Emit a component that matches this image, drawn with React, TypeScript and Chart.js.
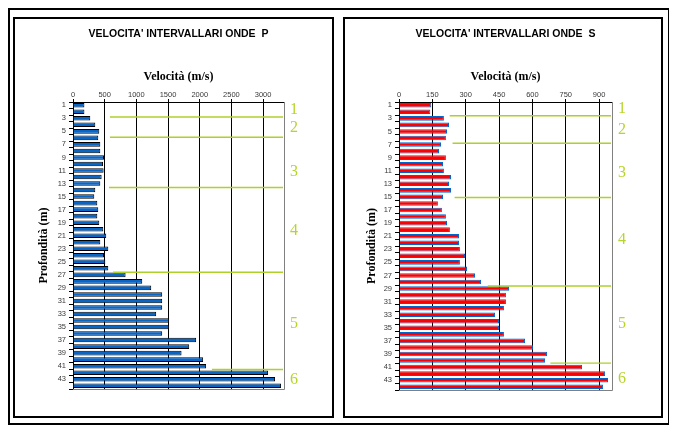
import React, { useEffect, useRef } from 'react';
import { Chart, registerables } from 'chart.js';

Chart.register(...registerables);

const depthLabels = ['1','2','3','4','5','6','7','8','9','10','11','12','13','14','15','16','17','18','19','20','21','22','23','24','25','26','27','28','29','30','31','32','33','34','35','36','37','38','39','40','41','42','43','44'];

const vpValues = [180,180,273,352,415,399,431,431,489,473,483,452,431,352,336,384,399,384,415,478,525,431,557,489,510,557,830,1093,1235,1408,1408,1408,1313,1518,1518,1408,1944,1834,1713,2054,2101,3079,3189,3284];
const vsValues = [145,141,202,225,216,211,189,180,211,198,202,234,225,234,198,175,193,211,216,229,270,270,274,297,274,306,342,369,495,481,481,472,432,450,450,472,567,603,666,657,823,927,940,918];

const pTickValues = [0,500,1000,1500,2000,2500,3000];
const sTickValues = [0,150,300,450,600,750,900];

const layerNames = ['1','2','3','4','5','6'];

const pBoundaryDepths = [2.8,5.9,13.6,26.6,41.5];
const pBoundaryStarts = [583,583,568,631,2192];
const pLayerLabelDepths = [1.77,4.48,11.27,20.25,34.5,43.1];

const sBoundaryDepths = [2.6,6.8,15.1,28.6,40.4];
const sBoundaryStarts = [228,241,250,399,681];
const sLayerLabelDepths = [1.57,4.78,11.35,21.6,34.4,42.8];

const GREEN = '#aed02a';
const GREEN_TEXT = '#b6d52c';

const layersPlugin = {
  id: 'layers',
  afterDatasetsDraw(chart: any, _args: any, opts: any) {
    const { ctx, chartArea, scales } = chart;
    const xs = scales.x;
    const ys = scales.y;
    ctx.save();
    ctx.strokeStyle = '#808080';
    ctx.lineWidth = 1;
    ctx.beginPath();
    ctx.moveTo(chartArea.right + 0.5, chartArea.top);
    ctx.lineTo(chartArea.right + 0.5, chartArea.bottom + 0.5);
    ctx.lineTo(chartArea.left, chartArea.bottom + 0.5);
    ctx.stroke();

    ctx.strokeStyle = GREEN;
    ctx.lineWidth = 1.4;
    opts.depths.forEach((d: number, i: number) => {
      const py = ys.getPixelForValue(d - 1);
      const px = xs.getPixelForValue(opts.starts[i]);
      ctx.beginPath();
      ctx.moveTo(px, py);
      ctx.lineTo(chartArea.right - 1, py);
      ctx.stroke();
    });

    ctx.fillStyle = GREEN_TEXT;
    ctx.font = '16px "Liberation Serif", serif';
    ctx.textAlign = 'center';
    ctx.textBaseline = 'middle';
    opts.labelDepths.forEach((d: number, i: number) => {
      ctx.fillText(layerNames[i], chartArea.right + 10, ys.getPixelForValue(d - 1));
    });
    ctx.restore();
  },
};

type Props = {
  title: string;
  values: number[];
  max: number;
  tickValues: number[];
  fill: string;
  border: string;
  depths: number[];
  starts: number[];
  labelDepths: number[];
  width: number;
  height: number;
  yAxisWidth: number;
  padRight: number;
  padBottom: number;
  yTitlePad: number;
};

function VelocityChart(p: Props) {
  const ref = useRef<HTMLCanvasElement | null>(null);
  useEffect(() => {
    if (!ref.current) return;
    const tickFont = { family: '"Liberation Sans", Arial, sans-serif', size: 7.5 };
    const axisTitleFont = { family: '"Liberation Serif", serif', size: 12, weight: 'bold' as const };
    const chart = new Chart(ref.current, {
      type: 'bar',
      data: {
        labels: depthLabels,
        datasets: [
          {
            data: p.values,
            backgroundColor: p.fill,
            borderColor: p.border,
            borderWidth: 1,
            barPercentage: 0.7,
            categoryPercentage: 1,
          },
        ],
      },
      plugins: [layersPlugin],
      options: {
        indexAxis: 'y',
        responsive: false,
        animation: false,
        devicePixelRatio: 1,
        layout: { padding: { left: 0, right: p.padRight, top: 0, bottom: p.padBottom } },
        plugins: {
          legend: { display: false },
          tooltip: { enabled: false },
          title: {
            display: true,
            text: p.title,
            fullSize: false,
            color: '#000',
            font: { family: '"Liberation Sans", Arial, sans-serif', size: 10.5, weight: 'bold' },
            padding: { top: 8.6, bottom: 19.8 },
          },
          layers: { depths: p.depths, starts: p.starts, labelDepths: p.labelDepths },
        } as any,
        scales: {
          x: {
            type: 'linear',
            position: 'top',
            min: 0,
            max: p.max,
            afterBuildTicks: (s: any) => {
              s.ticks = p.tickValues.map((v) => ({ value: v }));
            },
            afterFit: (s: any) => {
              s.height = 42;
            },
            ticks: { font: tickFont, color: '#3a3a3a', padding: 0, callback: (v: any) => String(v) },
            grid: { color: '#000', lineWidth: 1, tickLength: 3 },
            border: { color: '#000', width: 1 },
            title: {
              display: true,
              text: 'Velocità (m/s)',
              color: '#000',
              font: axisTitleFont,
              padding: { top: 9.8, bottom: 0 },
            },
          },
          y: {
            type: 'category',
            afterFit: (s: any) => {
              s.width = p.yAxisWidth;
            },
            ticks: {
              autoSkip: false,
              font: tickFont,
              color: '#3a3a3a',
              padding: 3,
              callback: function (this: any, v: any, i: number) {
                return i % 2 === 0 ? this.getLabelForValue(v) : '';
              },
            },
            grid: { drawOnChartArea: false, color: '#000', tickLength: 4, offset: true },
            border: { color: '#000', width: 1 },
            title: {
              display: true,
              text: 'Profondità (m)',
              color: '#000',
              font: axisTitleFont,
              padding: { top: p.yTitlePad, bottom: 0 },
            },
          },
        },
      } as any,
    });
    return () => chart.destroy();
  }, []);
  return <canvas ref={ref} width={p.width} height={p.height} style={{ display: 'block', width: p.width, height: p.height }} />;
}

export default function App() {
  const panel: React.CSSProperties = {
    position: 'absolute',
    top: 7,
    height: 401,
    border: '2px solid #000',
    boxSizing: 'border-box',
    background: '#fff',
  };
  return (
    <div style={{ position: 'relative', width: 662, height: 417, border: '2px solid #000', boxSizing: 'border-box', background: '#fff' }}>
      <div style={{ ...panel, left: 3, width: 321 }}>
        <VelocityChart
          title="VELOCITA' INTERVALLARI ONDE  P"
          values={vpValues}
          max={3330}
          tickValues={pTickValues}
          fill="#0866c8"
          border="#000000"
          depths={pBoundaryDepths}
          starts={pBoundaryStarts}
          labelDepths={pLayerLabelDepths}
          width={317}
          height={397}
          yAxisWidth={58}
          padRight={48}
          padBottom={27}
          yTitlePad={21.8}
        />
      </div>
      <div style={{ ...panel, left: 333, width: 320 }}>
        <VelocityChart
          title="VELOCITA' INTERVALLARI ONDE  S"
          values={vsValues}
          max={958}
          tickValues={sTickValues}
          fill="#ff0000"
          border="#0066cc"
          depths={sBoundaryDepths}
          starts={sBoundaryStarts}
          labelDepths={sLayerLabelDepths}
          width={316}
          height={397}
          yAxisWidth={54}
          padRight={49}
          padBottom={26}
          yTitlePad={19.8}
        />
      </div>
    </div>
  );
}
